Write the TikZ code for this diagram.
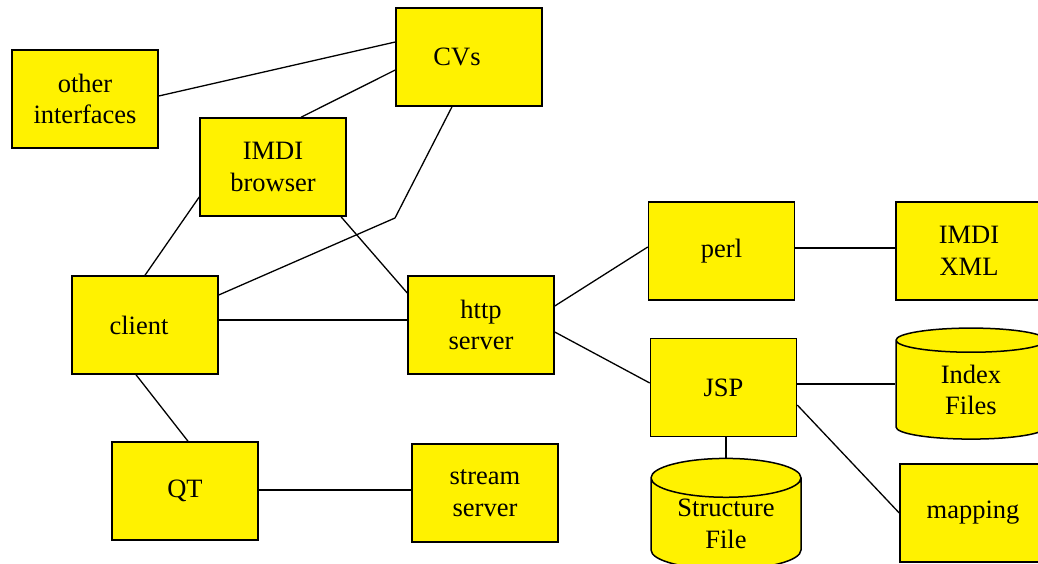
\documentclass[tikz,border=0pt]{standalone}
\usepackage{fontspec}
\setmainfont{Liberation Serif}
\usetikzlibrary{shapes.geometric, calc}

\begin{document}
\begin{tikzpicture}[
	x=1pt, y=-1pt,
	box/.style={draw=black, line width=1.5pt, fill=yellow, minimum width=146pt, minimum height=98pt, inner sep=0pt, align=center, font=\rmfamily\fontsize{26.5}{31.5}\selectfont},
	store/.style={box, cylinder, shape border rotate=90, aspect=0.4, minimum width=150pt, minimum height=111pt},
	link/.style={draw=black, line width=1.3pt}
	]
	
	\useasboundingbox (0,0) rectangle (1038,564);
	\clip (0,0) rectangle (1038,564);
	
	% --- LEFT PART: CLIENT SIDE ---
	\node[box] (other) at (85,99) {other\\interfaces};
	\node[box] (cvs) at (469,57) {CVs\hspace*{24pt}};
	\node[box] (browser) at (273,167) {IMDI\\browser};
	\node[box] (client) at (145,325) {client\hspace*{12pt}};
	\node[box] (qt) at (185,491) {QT};
	\node[box] (stream) at (485,493) {stream\\server};
	\node[box] (http) at (481,325) {http\\server};
	
	% --- RIGHT PART: SERVER SIDE ---
	\node[box] (perl) at (721.5,251) {perl};
	\node[box] (xml) at (969,251) {IMDI\\XML};
	\node[box] (jsp) at (723.5,387.5) {JSP};
	\node[store] (index) at (971,390) {Index\\Files};
	\node[store] (structure) at (726,524) {Structure\\File};
	\node[box] (mapping) at (973,513) {mapping};
	
	% bend of the client -- CVs line
	\coordinate (bend) at (395,218);
	
	% --- Connectors ---
	\draw[link] ([yshift=3pt]other.east) -- ([yshift=15pt]cvs.west);
	\draw[link] ([xshift=28pt]browser.north) -- ([yshift=-13pt]cvs.west);
	\draw[link] ([yshift=30pt]client.east) -- (bend) -- ([xshift=-17pt]cvs.south);
	\draw[link] (client.north) -- ([yshift=-30pt]browser.west);
	\draw[link] ([xshift=68pt]browser.south) -- ([yshift=32pt]http.west);
	\draw[link] ([yshift=5pt]client.east) -- ([yshift=5pt]http.west);
	\draw[link] ([xshift=-9pt]client.south) -- ([xshift=3pt]qt.north);
	\draw[link] ([yshift=1pt]qt.east) -- ([yshift=1pt]qt.east -| stream.west);
	\draw[link] ([yshift=19pt]http.east) -- ([yshift=4pt]perl.west);
	\draw[link] ([yshift=-7pt]http.east) -- ([yshift=4.5pt]jsp.west);
	\draw[link] ([yshift=3pt]perl.east) -- ([yshift=3pt]perl.east -| xml.west);
	\draw[link] ([yshift=3.5pt]jsp.east) -- ([yshift=3.5pt]jsp.east -| index.west);
	\draw[link] ([xshift=2.5pt]jsp.south) -- (structure.north);
	\draw[link] ([yshift=-17.5pt]jsp.east) -- (mapping.west);
	
\end{tikzpicture}
\end{document}
